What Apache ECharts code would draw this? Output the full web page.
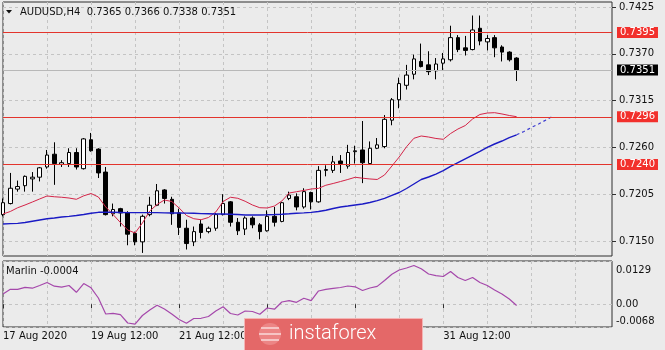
<!DOCTYPE html>
<html>
<head>
<meta charset="utf-8">
<script src="https://cdn.jsdelivr.net/npm/echarts@6/dist/echarts.min.js"></script>
<style>
  html, body { margin: 0; padding: 0; background: #ebebeb; }
  #chart { width: 665px; height: 350px; }
</style>
</head>
<body>
<div id="chart"></div>
<script>
// AUDUSD H4 candles, one entry per bar (17 Aug 2020 12:00 onwards)
const opens = [
  0.7181, 0.7194, 0.7211, 0.7215, 0.7223, 0.7225, 0.7237, 0.7252, 0.7240, 0.7241,
  0.7254, 0.7235, 0.7269, 0.7258, 0.7231, 0.7182, 0.7188, 0.7183, 0.7159, 0.7149,
  0.7181, 0.7192, 0.7210, 0.7199, 0.7183, 0.7165, 0.7149, 0.7170, 0.7161, 0.7165,
  0.7181, 0.7196, 0.7172, 0.7164, 0.7177, 0.7169, 0.7162, 0.7179, 0.7173, 0.7200,
  0.7202, 0.7190, 0.7207, 0.7196, 0.7233, 0.7233, 0.7244, 0.7238, 0.7255, 0.7257,
  0.7241, 0.7259, 0.7261, 0.7292, 0.7316, 0.7333, 0.7346, 0.7361, 0.7357, 0.7350,
  0.7359, 0.7363, 0.7389, 0.7377, 0.7375, 0.7400, 0.7384, 0.7389, 0.7378, 0.7372,
  0.7365
];
const highs = [
  0.7200, 0.7230, 0.7221, 0.7227, 0.7231, 0.7237, 0.7257, 0.7266, 0.7245, 0.7259,
  0.7259, 0.7271, 0.7277, 0.7259, 0.7237, 0.7194, 0.7189, 0.7185, 0.7161, 0.7181,
  0.7202, 0.7217, 0.7211, 0.7202, 0.7188, 0.7175, 0.7167, 0.7175, 0.7167, 0.7183,
  0.7205, 0.7197, 0.7177, 0.7179, 0.7179, 0.7171, 0.7186, 0.7190, 0.7196, 0.7208,
  0.7206, 0.7212, 0.7208, 0.7238, 0.7239, 0.7250, 0.7251, 0.7263, 0.7262, 0.7291,
  0.7267, 0.7271, 0.7298, 0.7318, 0.7342, 0.7357, 0.7369, 0.7382, 0.7373, 0.7365,
  0.7371, 0.7403, 0.7392, 0.7391, 0.7415, 0.7415, 0.7392, 0.7392, 0.7380, 0.7373,
  0.7366
];
const lows = [
  0.7179, 0.7193, 0.7208, 0.7208, 0.7208, 0.7220, 0.7235, 0.7216, 0.7237, 0.7237,
  0.7234, 0.7234, 0.7255, 0.7224, 0.7180, 0.7179, 0.7167, 0.7145, 0.7145, 0.7136,
  0.7179, 0.7191, 0.7194, 0.7169, 0.7157, 0.7140, 0.7144, 0.7153, 0.7159, 0.7162,
  0.7180, 0.7167, 0.7157, 0.7157, 0.7165, 0.7152, 0.7161, 0.7167, 0.7172, 0.7198,
  0.7186, 0.7188, 0.7187, 0.7195, 0.7226, 0.7230, 0.7230, 0.7235, 0.7241, 0.7218,
  0.7240, 0.7258, 0.7259, 0.7286, 0.7306, 0.7328, 0.7340, 0.7354, 0.7345, 0.7340,
  0.7351, 0.7361, 0.7372, 0.7368, 0.7374, 0.7380, 0.7374, 0.7366, 0.7361, 0.7361,
  0.7338
];
const closes = [
  0.7195, 0.7212, 0.7214, 0.7226, 0.7225, 0.7236, 0.7251, 0.7241, 0.7242, 0.7254,
  0.7237, 0.7270, 0.7256, 0.7230, 0.7181, 0.7187, 0.7183, 0.7158, 0.7149, 0.7179,
  0.7192, 0.7209, 0.7200, 0.7182, 0.7166, 0.7147, 0.7161, 0.7160, 0.7165, 0.7181,
  0.7194, 0.7172, 0.7162, 0.7177, 0.7169, 0.7161, 0.7179, 0.7172, 0.7195, 0.7204,
  0.7190, 0.7208, 0.7196, 0.7233, 0.7234, 0.7243, 0.7241, 0.7254, 0.7256, 0.7242,
  0.7259, 0.7263, 0.7293, 0.7316, 0.7335, 0.7345, 0.7364, 0.7355, 0.7349, 0.7358,
  0.7364, 0.7389, 0.7375, 0.7374, 0.7398, 0.7385, 0.7388, 0.7377, 0.7372, 0.7363,
  0.7351
];

// fast moving average (red)
const maFast = [
  0.71817, 0.71847, 0.71891, 0.71923, 0.71958, 0.71994, 0.72029, 0.72020, 0.72014, 0.72005,
  0.71990, 0.72031, 0.72058, 0.72017, 0.71900, 0.71811, 0.71717, 0.71629, 0.71594, 0.71712,
  0.71853, 0.71929, 0.71982, 0.71964, 0.71888, 0.71800, 0.71762, 0.71750, 0.71776, 0.71841,
  0.71964, 0.72014, 0.72002, 0.71967, 0.71923, 0.71891, 0.71888, 0.71911, 0.71970, 0.72064,
  0.72079, 0.72094, 0.72111, 0.72119, 0.72155, 0.72176, 0.72199, 0.72223, 0.72249, 0.72238,
  0.72229, 0.72223, 0.72276, 0.72381, 0.72487, 0.72608, 0.72707, 0.72734, 0.72722, 0.72705,
  0.72695, 0.72763, 0.72816, 0.72857, 0.72934, 0.72987, 0.73004, 0.73008, 0.72993, 0.72975,
  0.72961
];
// slow moving average (blue)
const maSlow = [
  0.71700, 0.71704, 0.71707, 0.71717, 0.71732, 0.71747, 0.71761, 0.71770, 0.71782, 0.71790,
  0.71800, 0.71811, 0.71826, 0.71837, 0.71837, 0.71837, 0.71835, 0.71833, 0.71833, 0.71833,
  0.71833, 0.71833, 0.71831, 0.71829, 0.71829, 0.71827, 0.71826, 0.71822, 0.71820, 0.71817,
  0.71817, 0.71815, 0.71811, 0.71806, 0.71806, 0.71806, 0.71808, 0.71811, 0.71815, 0.71820,
  0.71826, 0.71831, 0.71837, 0.71847, 0.71861, 0.71882, 0.71900, 0.71911, 0.71923, 0.71935,
  0.71953, 0.71974, 0.72000, 0.72035, 0.72070, 0.72117, 0.72170, 0.72223, 0.72252, 0.72287,
  0.72326, 0.72376, 0.72420, 0.72464, 0.72508, 0.72552, 0.72599, 0.72640, 0.72675, 0.72714,
  0.72748
];
// dashed forward extension of the slow average, starting at the last bar
const maSlowForward = [0.72748, 0.72787, 0.72834, 0.72875, 0.72922, 0.72969];

// Marlin oscillator
const marlin = [
  0.00305, 0.00445, 0.00445, 0.00505, 0.00478, 0.00559, 0.00648, 0.00538, 0.00508, 0.00559,
  0.00356, 0.00618, 0.00490, 0.00186, -0.00292, -0.00271, -0.00313, -0.00561, -0.00596, -0.00337,
  -0.00173, -0.00032, -0.00143, -0.00292, -0.00456, -0.00570, -0.00426, -0.00420, -0.00367, -0.00202,
  -0.00074, -0.00277, -0.00322, -0.00202, -0.00217, -0.00301, -0.00113, -0.00149, 0.00066, 0.00105,
  0.00057, 0.00177, 0.00108, 0.00395, 0.00445, 0.00475, 0.00499, 0.00544, 0.00520, 0.00410,
  0.00484, 0.00532, 0.00708, 0.00893, 0.01021, 0.01081, 0.01156, 0.01057, 0.00902, 0.00854,
  0.00827, 0.00977, 0.00798, 0.00708, 0.00798, 0.00648, 0.00559, 0.00424, 0.00305, 0.00156,
  -0.0004
];

// horizontal levels
const levels = [0.7395, 0.7296, 0.7240];

// axis ticks
const priceTicks = [0.7150, 0.7205, 0.7260, 0.7315, 0.7370, 0.7425];
const marlinTicks = [0.0129, 0, -0.0068];
const timeTickIndex = [0, 12, 24, 36, 48, 60];
const timeTickText = ['17 Aug 2020', '19 Aug 12:00', '21 Aug 12:00', '25 Aug 12:00', '27 Aug 12:00', '31 Aug 12:00'];
const slotCount = 84;   // bar slots across the visible width

const FONT = '"DejaVu Sans", Verdana, sans-serif';
const BG = '#ebebeb';
const FRAME = '#2e2e2e';
const GRIDLINE = '#c4c4c4';

const categories = Array.from({ length: slotCount }, (_, i) => 'b' + i);
const candleData = opens.map((o, i) => [o, closes[i], lows[i], highs[i]]);
const lastIdx = opens.length - 1;
const forwardData = categories.map((_, i) => {
  const k = i - lastIdx;
  return k >= 0 && k < maSlowForward.length ? maSlowForward[k] : null;
});
const showTime = (i) => timeTickIndex.indexOf(i) >= 0;
const dayLine = (i) => i % 6 === 0;

// price axis range: 0.7425 sits 5px below the top edge, 8509 px per unit
const priceMax = 0.743088;
const priceMin = 0.713237;

const levelLabel = (bg) => ({
  show: true, position: 'end', distance: 5,
  formatter: (p) => p.value.toFixed(4),
  color: '#ffffff', backgroundColor: bg,
  padding: [1, 3, 0, 3], fontSize: 10, fontFamily: FONT
});

const chart = echarts.init(document.getElementById('chart'), null, { renderer: 'canvas' });

// watermark badge, drawn on its own layer above the axes
const badgeLayer = 1;
const badge = [
  { type: 'rect', shape: { x: 244.5, y: 318.5, width: 178, height: 34 }, style: { fill: '#e46868', stroke: '#f4b4b4', lineWidth: 1 } },
  { type: 'circle', shape: { cx: 270, cy: 334, r: 11 }, style: { fill: '#ec8585' } },
  { type: 'line', shape: { x1: 261, y1: 328, x2: 279, y2: 328 }, style: { stroke: '#ffffff', lineWidth: 1.5, opacity: 0.7 } },
  { type: 'line', shape: { x1: 259, y1: 334, x2: 281, y2: 334 }, style: { stroke: '#ffffff', lineWidth: 1.5, opacity: 0.7 } },
  { type: 'line', shape: { x1: 261, y1: 340, x2: 279, y2: 340 }, style: { stroke: '#ffffff', lineWidth: 1.5, opacity: 0.7 } },
  {
    type: 'text', x: 289, y: 334,
    style: { text: 'instaforex', fill: '#ffffff', font: '300 20px Roboto, "Open Sans", sans-serif', verticalAlign: 'middle' }
  }
].map((el, i) => Object.assign(el, { zlevel: badgeLayer, z: 100 + i, silent: true }));

const option = {
  animation: false,
  backgroundColor: BG,
  grid: [
    { left: 3, right: 53, top: 2, height: 254, show: true, borderColor: FRAME, borderWidth: 1, backgroundColor: BG },
    { left: 3, right: 53, top: 261, height: 66, show: true, borderColor: FRAME, borderWidth: 1, backgroundColor: BG }
  ],
  xAxis: [
    {
      type: 'category', gridIndex: 0, data: categories, boundaryGap: false,
      axisLine: { show: false }, axisTick: { show: false }, axisLabel: { show: false },
      splitLine: { show: true, interval: dayLine, lineStyle: { color: GRIDLINE, type: [3, 3], width: 1 } }
    },
    {
      type: 'category', gridIndex: 1, data: categories, boundaryGap: false,
      axisLine: { show: false },
      axisTick: { show: true, interval: showTime, length: 4, lineStyle: { color: FRAME } },
      axisLabel: {
        show: true, interval: showTime, margin: 4, align: 'left',
        color: '#111', fontSize: 10, fontFamily: FONT,
        formatter: (v, i) => { const k = timeTickIndex.indexOf(i); return k >= 0 ? timeTickText[k] : ''; }
      },
      splitLine: { show: true, interval: dayLine, lineStyle: { color: GRIDLINE, type: [3, 3], width: 1 } }
    }
  ],
  yAxis: [
    {
      type: 'value', gridIndex: 0, position: 'right', min: priceMin, max: priceMax, scale: true,
      axisLine: { show: false },
      axisTick: { show: true, customValues: priceTicks, length: 4, lineStyle: { color: FRAME } },
      axisLabel: {
        show: true, customValues: priceTicks, margin: 7, align: 'left',
        color: '#111', fontSize: 10, fontFamily: FONT,
        formatter: (v) => v.toFixed(4)
      },
      splitLine: { show: true, lineStyle: { color: GRIDLINE, type: [3, 3], width: 1 } }
    },
    {
      type: 'value', gridIndex: 1, position: 'right', min: -0.0068, max: 0.0129,
      axisLine: { show: false },
      axisTick: { show: false, customValues: marlinTicks },
      axisLabel: {
        show: true, customValues: marlinTicks, margin: 4, align: 'left',
        color: '#111', fontSize: 10, fontFamily: FONT,
        formatter: (v) => {
          if (v === 0) return '0.00';
          return v > 0 ? '{hi|' + v.toFixed(4) + '}' : '{lo|' + v.toFixed(4) + '}';
        },
        rich: {
          hi: { padding: [18, 0, 0, 0], fontSize: 10, fontFamily: FONT, color: '#111' },
          lo: { padding: [0, 0, 12, 0], fontSize: 10, fontFamily: FONT, color: '#111' }
        }
      },
      splitLine: { show: true, lineStyle: { color: GRIDLINE, type: [3, 3], width: 1 } }
    }
  ],
  series: [
    {
      name: 'AUDUSD', type: 'candlestick', xAxisIndex: 0, yAxisIndex: 0,
      data: candleData, barWidth: 4, z: 3,
      itemStyle: { color: '#ffffff', color0: '#000000', borderColor: '#000000', borderColor0: '#000000', borderWidth: 1 },
      markLine: {
        silent: true, symbol: ['none', 'none'], animation: false, precision: 4,
        data: [
          { yAxis: closes[lastIdx], lineStyle: { color: '#b8b8b8', width: 1, type: 'solid' }, label: levelLabel('#000000') }
        ].concat(levels.map((v) => ({
          yAxis: v, lineStyle: { color: '#e3342c', width: 1, type: 'solid' }, label: levelLabel('#f2302c')
        })))
      }
    },
    {
      name: 'MA fast', type: 'line', xAxisIndex: 0, yAxisIndex: 0, data: maFast,
      showSymbol: false, symbol: 'none', z: 4,
      lineStyle: { color: '#d42448', width: 1 }
    },
    {
      name: 'MA slow', type: 'line', xAxisIndex: 0, yAxisIndex: 0, data: maSlow,
      showSymbol: false, symbol: 'none', z: 4,
      lineStyle: { color: '#1a1ac4', width: 1.4 }
    },
    {
      name: 'MA slow forward', type: 'line', xAxisIndex: 0, yAxisIndex: 0, data: forwardData,
      showSymbol: false, symbol: 'none', z: 4,
      lineStyle: { color: '#3a3ad0', width: 1.2, type: [3, 3] }
    },
    {
      name: 'Marlin', type: 'line', xAxisIndex: 1, yAxisIndex: 1, data: marlin,
      showSymbol: false, symbol: 'none',
      lineStyle: { color: '#a548ab', width: 1.2 }
    }
  ],
  graphic: [
    { type: 'polygon', shape: { points: [[6, 10], [12, 10], [9, 13.5]] }, style: { fill: '#111' }, z: 10 },
    {
      type: 'text', x: 20, y: 12.5, z: 10,
      style: {
        text: 'AUDUSD,H4  ' + [opens[lastIdx], highs[lastIdx], lows[lastIdx], closes[lastIdx]].map((v) => v.toFixed(4)).join(' '),
        fill: '#111', font: '10px ' + FONT, verticalAlign: 'middle'
      }
    },
    {
      type: 'text', x: 6, y: 271, z: 10,
      style: { text: 'Marlin ' + marlin[lastIdx].toFixed(4), fill: '#111', font: '10px ' + FONT, verticalAlign: 'middle' }
    }
  ].concat(badge)
};

chart.setOption(option);
</script>
</body>
</html>
